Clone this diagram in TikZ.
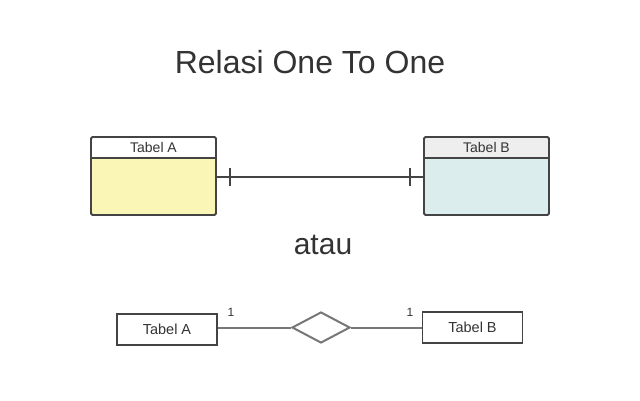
\documentclass[tikz,border=0pt]{standalone}
\usepackage{fontspec}
\setmainfont{Liberation Sans}
\usetikzlibrary{shapes.geometric}
\definecolor{txt}{HTML}{333333}
\definecolor{edge}{HTML}{444444}
\definecolor{gline}{HTML}{777777}
\definecolor{yel}{HTML}{FAF7B6}
\definecolor{cyanl}{HTML}{DCEDED}
\definecolor{hdrg}{HTML}{EEEEEE}
\tikzset{
  tbl/.style={draw=edge, line width=1.8pt, rounded corners=1.5pt},
  hdr/.style={text=txt, font=\fontsize{14}{16}\selectfont},
  ent/.style={draw=edge, line width=1.8pt, minimum width=100pt, minimum height=31pt, inner sep=0pt, text=txt, font=\fontsize{14.5}{16}\selectfont},
  rel/.style={draw=gline, line width=2pt, diamond, minimum width=58pt, minimum height=31pt, inner sep=0pt, aspect=1.9},
  conn/.style={draw=edge, line width=1.8pt},
  gconn/.style={draw=gline, line width=2pt},
  card/.style={text=txt, font=\fontsize{12}{13}\selectfont, inner sep=0pt}
}
\begin{document}
\begin{tikzpicture}[x=1pt,y=-1pt]
\useasboundingbox (0,0) rectangle (640,400);
\fill[white] (0,0) rectangle (640,400);
% title
\node[text=txt, font=\fontsize{32}{36}\selectfont] (title) at (310,62) {Relasi One To One};
% Table A
\fill[yel, rounded corners=1.5pt] (91,137) rectangle (216,215);
\fill[white] (92,138) rectangle (215,158);
\draw[tbl] (91,137) rectangle (216,215);
\draw[conn] (91,158) -- (216,158);
\node[hdr] (ha) at (153.5,147) {Tabel A};
\coordinate (a) at (216,177);
% Table B
\fill[cyanl, rounded corners=1.5pt] (424,137) rectangle (549,215);
\fill[hdrg] (425,138) rectangle (548,158);
\draw[tbl] (424,137) rectangle (549,215);
\draw[conn] (424,158) -- (549,158);
\node[hdr] (hb) at (486.5,147) {Tabel B};
\coordinate (b) at (424,177);
% connector
\draw[conn] (a) -- (b);
\draw[conn] (230,168) -- (230,186);
\draw[conn] (410,168) -- (410,186);
% atau
\node[text=txt, font=\fontsize{30}{34}\selectfont] (atau) at (323,245) {atau};
% bottom ER
\node[ent] (ea) at (167,329.5) {Tabel A};
\node[rel] (r) at (321,327.5) {};
\node[ent] (eb) at (472.5,327.5) {Tabel B};
\draw[gconn] (ea.east |- r.west) -- (r.west);
\draw[gconn] (r.east) -- (eb.west);
\node[card] (c1) at (231,312) {1};
\node[card] (c2) at (410,312) {1};
\end{tikzpicture}
\end{document}
